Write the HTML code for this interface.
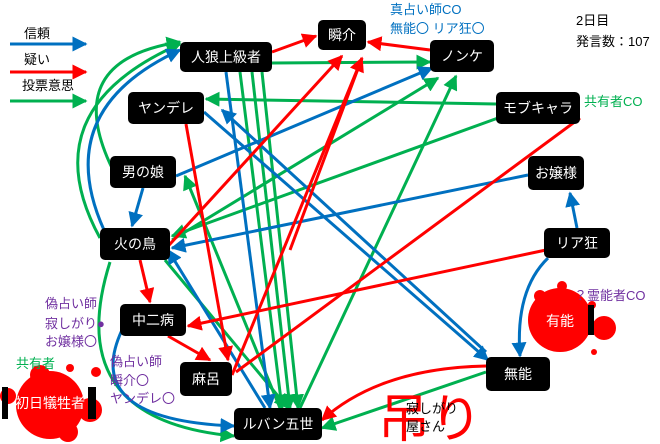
<!DOCTYPE html>
<html><head><meta charset="utf-8"><style>
body{margin:0;background:#fff;}
svg{display:block;font-family:"Liberation Sans","Noto Sans CJK JP",sans-serif;}
.n rect{fill:#000;rx:5;}
.n text{fill:#fff;font-size:14px;text-anchor:middle;dominant-baseline:central;}
</style></head><body>
<svg width="660" height="444" viewBox="0 0 660 444">
<defs>
<marker id="b" viewBox="0 0 10 10" refX="9" refY="5" markerWidth="5" markerHeight="5" orient="auto" markerUnits="strokeWidth"><path d="M0,0L10,5L0,10z" fill="#0070c0"/></marker>
<marker id="r" viewBox="0 0 10 10" refX="9" refY="5" markerWidth="5" markerHeight="5" orient="auto" markerUnits="strokeWidth"><path d="M0,0L10,5L0,10z" fill="#ff0000"/></marker>
<marker id="g" viewBox="0 0 10 10" refX="9" refY="5" markerWidth="5" markerHeight="5" orient="auto" markerUnits="strokeWidth"><path d="M0,0L10,5L0,10z" fill="#00b050"/></marker>
</defs>
<text x="24" y="38" font-size="13">信頼</text>
<line x1="10" y1="44" x2="86" y2="44" stroke="#0070c0" stroke-width="3" marker-end="url(#b)"/>
<text x="24" y="64" font-size="13">疑い</text>
<line x1="10" y1="72" x2="86" y2="72" stroke="#ff0000" stroke-width="3" marker-end="url(#r)"/>
<text x="22" y="90" font-size="13">投票意思</text>
<line x1="10" y1="101" x2="86" y2="101" stroke="#00b050" stroke-width="3" marker-end="url(#g)"/>
<text x="576" y="25" font-size="13">2日目</text>
<text x="576" y="46" font-size="13">発言数：107</text>
<text x="390" y="14" font-size="13" fill="#0070c0">真占い師CO</text>
<text x="390" y="33" font-size="13" fill="#0070c0">無能〇 リア狂〇</text>
<text x="584" y="106" font-size="13" fill="#00b050">共有者CO</text>

<g fill="none" stroke-width="3">
<g stroke="#00b050">
<path d="M272,63L430,62" marker-end="url(#g)"/>
<path d="M496,104L206,99" marker-end="url(#g)"/>
<path d="M498,118L172,236" marker-end="url(#g)"/>
<path d="M172,240L438,78" marker-end="url(#g)"/>
<path d="M300,408L456,76" marker-end="url(#g)"/>
<path d="M100,238Q30,110 180,44" marker-end="url(#g)"/>
<path d="M112,168Q60,60 180,42" marker-end="url(#g)"/>
<path d="M240,72L282,408" marker-end="url(#g)"/>
<path d="M252,72L290,408" marker-end="url(#g)"/>
<path d="M262,72L298,408" marker-end="url(#g)"/>
<path d="M486,372L322,428" marker-end="url(#g)"/>
<path d="M280,408L185,176" marker-end="url(#g)"/>
<path d="M110,262Q60,420 234,436" marker-end="url(#g)"/>
<path d="M165,260L288,408" marker-end="url(#g)"/>
</g>
<g stroke="#0070c0">
<path d="M143,188L132,226" marker-end="url(#b)"/>
<path d="M104,230Q50,110 180,50" marker-end="url(#b)"/>
<path d="M176,176L432,68" marker-end="url(#b)"/>
<path d="M528,175L172,248" marker-end="url(#b)"/>
<path d="M577,228L570,193" marker-end="url(#b)"/>
<path d="M548,258Q515,290 520,356" marker-end="url(#b)"/>
<path d="M204,112L488,360" marker-end="url(#b)"/>
<path d="M486,352L222,110" marker-end="url(#b)"/>
<path d="M226,72L270,408" marker-end="url(#b)"/>
<path d="M122,330Q80,420 234,426" marker-end="url(#b)"/>
<path d="M265,408L168,250" marker-end="url(#b)"/>
</g>
<g stroke="#ff0000">
<path d="M272,52L316,36" marker-end="url(#r)"/>
<path d="M430,50L368,42" marker-end="url(#r)"/>
<path d="M186,124L228,360" marker-end="url(#r)"/>
<path d="M140,260L150,302" marker-end="url(#r)"/>
<path d="M168,336L210,360" marker-end="url(#r)"/>
<path d="M546,250L188,326" marker-end="url(#r)"/>
<path d="M160,255L342,56" marker-end="url(#r)"/>
<path d="M290,250L362,58"/>
<path d="M232,375L362,58" marker-end="url(#r)"/>
<path d="M580,118L236,372"/>
<path d="M486,366Q380,368 322,420" marker-end="url(#r)"/>
</g>
</g>

<g fill="#ff0000">
<circle cx="50" cy="405" r="34"/><circle cx="90" cy="410" r="12"/><circle cx="40" cy="375" r="10"/><circle cx="68" cy="432" r="10"/><circle cx="70" cy="368" r="4"/><circle cx="96" cy="372" r="5"/><circle cx="8" cy="396" r="8"/>
<circle cx="560" cy="320" r="32"/><circle cx="604" cy="328" r="12"/><circle cx="592" cy="305" r="4"/><circle cx="562" cy="286" r="5"/><circle cx="594" cy="352" r="3"/><circle cx="540" cy="296" r="6"/>
</g>

<g class="n">
<rect x="180" y="42" width="92" height="30"/><text x="226" y="57">人狼上級者</text>
<rect x="318" y="20" width="48" height="30"/><text x="342" y="35">瞬介</text>
<rect x="430" y="40" width="64" height="32"/><text x="462" y="56">ノンケ</text>
<rect x="128" y="92" width="76" height="32"/><text x="166" y="108">ヤンデレ</text>
<rect x="496" y="92" width="84" height="32"/><text x="538" y="108">モブキャラ</text>
<rect x="110" y="156" width="66" height="32"/><text x="143" y="172">男の娘</text>
<rect x="528" y="156" width="56" height="34"/><text x="556" y="173">お嬢様</text>
<rect x="100" y="228" width="70" height="32"/><text x="135" y="244">火の鳥</text>
<rect x="544" y="228" width="66" height="30"/><text x="577" y="243">リア狂</text>
<rect x="120" y="304" width="66" height="32"/><text x="153" y="320">中二病</text>
<rect x="180" y="362" width="52" height="34"/><text x="206" y="379">麻呂</text>
<rect x="486" y="357" width="64" height="34"/><text x="518" y="374">無能</text>
<rect x="234" y="408" width="88" height="32"/><text x="278" y="424">ルバン五世</text>
</g>
<rect x="588" y="305" width="6" height="30" fill="#000"/>
<text x="560" y="321" font-size="14" fill="#fff" text-anchor="middle" dominant-baseline="central">有能</text>
<rect x="2" y="387" width="6" height="32" fill="#000"/><rect x="88" y="387" width="8" height="32" fill="#000"/>
<text x="50" y="403" font-size="14" fill="#fff" text-anchor="middle" dominant-baseline="central">初日犠牲者</text>

<g fill="#7030a0" font-size="13">
<text x="45" y="308">偽占い師</text>
<text x="45" y="328">寂しがり●</text>
<text x="45" y="346">お嬢様〇</text>
<text x="110" y="366">偽占い師</text>
<text x="110" y="385">瞬介〇</text>
<text x="110" y="403">ヤンデレ〇</text>
<text x="574" y="300">？霊能者CO</text>
</g>
<text x="16" y="368" font-size="13" fill="#00b050">共有者</text>
<text x="378" y="437" font-size="52" fill="#ff0000">吊り</text>
<text x="406" y="413" font-size="13">寂しがり</text>
<text x="406" y="431" font-size="13">屋さん</text>
</svg>
</body></html>
